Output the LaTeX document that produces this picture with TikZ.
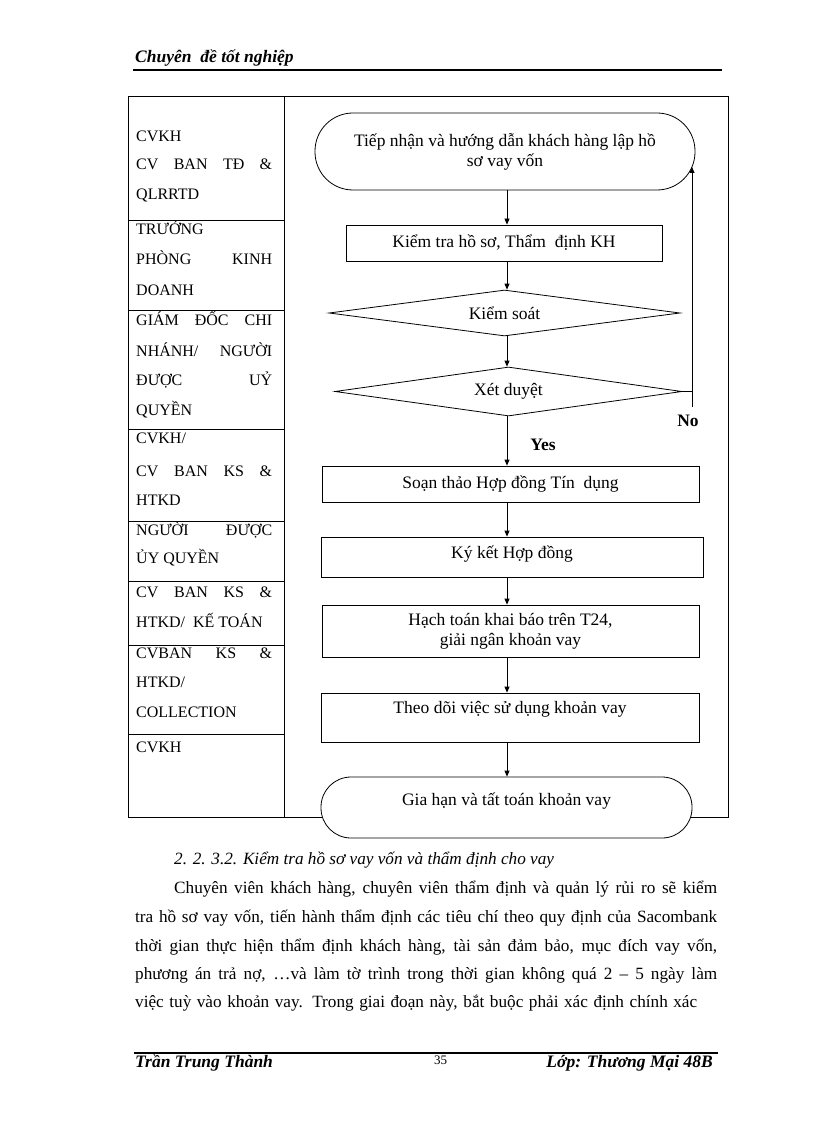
\documentclass[tikz,border=0pt]{standalone}
\usepackage{fontspec}
\setmainfont{Liberation Serif}
\usetikzlibrary{shapes.geometric,arrows.meta}

\newcommand{\flowfont}{\fontsize{17.5}{20}\selectfont}
\newcommand{\lanefont}{\fontsize{16}{19}\selectfont}
\newcommand{\bodyfont}{\fontsize{17.2}{21}\selectfont}
\newcommand{\pagefont}{\fontsize{17.5}{20}\selectfont\bfseries\itshape}
\newcommand{\just}[2]{\makebox[#1pt][s]{#2}}

\begin{document}
\begin{tikzpicture}[x=1pt, y=-1pt,
    box/.style={draw, line width=.8pt, inner sep=2pt, font=\flowfont, align=center},
    term/.style={box, fill=white, rounded corners=#1},
    decision/.style={box, diamond, aspect=7, inner sep=0pt},
    arr/.style={line width=.8pt, -{Triangle[length=6pt,width=5pt]}},
    lane/.style={anchor=base west, inner sep=0pt, font=\lanefont},
    body/.style={anchor=base west, inner sep=0pt, font=\bodyfont},
    ]
    \useasboundingbox (0,0) rectangle (816,1123);

    % page header and footer
    \node[anchor=base west, inner sep=0pt, font=\pagefont] (title) at (135,63) {Chuyên~ đề tốt nghiệp};
    \draw[line width=2pt] (133,70) -- (722,70);
    \draw[line width=1.5pt] (134,1053) -- (718,1053);
    \node[anchor=base west, inner sep=0pt, font=\pagefont] (author) at (135,1067) {Trần Trung Thành};
    \node[anchor=base west, inner sep=0pt, font=\fontsize{13}{15}\selectfont] (pageno) at (434,1064) {35};
    \node[anchor=base east, inner sep=0pt, font=\pagefont] (class) at (713,1067) {Lớp: Thương Mại 48B};

    % table frame
    \draw[line width=.8pt] (128,96) rectangle (728,817);
    \draw[line width=.8pt] (284,96) -- (284,817);
    \foreach \y in {220,310,429,521,581,645,734}
        \draw[line width=.8pt] (128,\y) -- (284,\y);

    % who does each step
    \node[lane] (l1) at (136,142) {CVKH};
    \node[lane] (l2) at (136,170) {\just{136}{CV BAN TĐ \&}};
    \node[lane] (l3) at (136,200) {QLRRTD};
    \node[lane] (l4) at (136,234) {TRƯỞNG};
    \node[lane] (l5) at (136,264) {\just{136}{PHÒNG KINH}};
    \node[lane] (l6) at (136,295) {DOANH};
    \node[lane] (l7) at (136,325) {\just{136}{GIÁM ĐỐC CHI}};
    \node[lane] (l8) at (136,356) {\just{136}{NHÁNH/ NGƯỜI}};
    \node[lane] (l9) at (136,385) {\just{136}{ĐƯỢC UỶ}};
    \node[lane] (l10) at (136,415) {QUYỀN};
    \node[lane] (l11) at (136,443) {CVKH/};
    \node[lane] (l12) at (136,476) {\just{136}{CV BAN KS \&}};
    \node[lane] (l13) at (136,505) {HTKD};
    \node[lane] (l14) at (136,535) {\just{136}{NGƯỜI ĐƯỢC}};
    \node[lane] (l15) at (136,563) {ỦY QUYỀN};
    \node[lane] (l16) at (136,597) {\just{136}{CV BAN KS \&}};
    \node[lane] (l17) at (136,627) {HTKD/~ KẾ TOÁN};
    \node[lane] (l18) at (136,658) {\just{136}{CVBAN KS \&}};
    \node[lane] (l19) at (136,687) {HTKD/};
    \node[lane] (l20) at (136,717) {COLLECTION};
    \node[lane] (l21) at (136,752) {CVKH};

    % flow
    \node[term=38pt, minimum width=380pt, minimum height=77pt] (start) at (505,151.5) {Tiếp nhận và hướng dẫn khách hàng lập hồ\\sơ vay vốn};
    \node[box, minimum width=316pt, minimum height=36pt] (check) at (504,243) {Kiểm tra hồ sơ, Thẩm~ định KH};
    \node[decision, minimum width=351pt, minimum height=46pt] (control) at (504.5,313) {Kiểm soát};
    \node[decision, minimum width=347pt, minimum height=49pt] (approve) at (508.5,391.5) {Xét duyệt};
    \node[box, minimum width=377pt, minimum height=36pt] (draft) at (510.5,484) {Soạn thảo Hợp đồng Tín~ dụng};
    \node[box, minimum width=382pt, minimum height=40pt, text height=12pt, text depth=10pt] (sign) at (512,557) {Ký kết Hợp đồng};
    \node[box, minimum width=377pt, minimum height=52pt] (book) at (510.5,631) {Hạch toán khai báo trên T24,\\giải ngân khoản vay};
    \node[box, minimum width=378pt, minimum height=49pt, text height=12pt, text depth=21pt] (monitor) at (510,717.5) {Theo dõi việc sử dụng khoản vay};
    \node[term=30pt, minimum width=371pt, minimum height=61pt, text height=12pt, text depth=17pt] (settle) at (506.5,807.5) {Gia hạn và tất toán khoản vay};

    \coordinate (spine) at (507,0);
    \foreach \a/\b in {start/check, check/control, control/approve, approve/draft,
                       draft/sign, sign/book, book/monitor, monitor/settle}
        \draw[arr] (\a.south -| spine) -- (\b.north -| spine);

    % back to the start when refused
    \coordinate (loopend) at (692,407);
    \coordinate (looptop) at (692,167);
    \draw[line width=.8pt] (approve.east) -- (approve.east -| loopend);
    \draw[arr] (loopend) -- (looptop);
    \node[font=\flowfont\bfseries] (no) at (688,421) {No};
    \node[font=\flowfont\bfseries] (yes) at (543,445) {Yes};

    % text under the table
    \node[body, font=\bodyfont\itshape] (sec) at (174,864) {2. 2. 3.2. Kiểm tra hồ sơ vay vốn và thẩm định cho vay};
    \node[body] (p1) at (174,893) {\just{543}{Chuyên viên khách hàng, chuyên viên thẩm định và quản lý rủi ro sẽ kiểm}};
    \node[body] (p2) at (135,922) {\just{582}{tra hồ sơ vay vốn, tiến hành thẩm định các tiêu chí theo quy định của Sacombank}};
    \node[body] (p3) at (135,951) {\just{582}{thời gian thực hiện thẩm định khách hàng, tài sản đảm bảo, mục đích vay vốn,}};
    \node[body] (p4) at (135,979) {\just{582}{phương án trả nợ, …và làm tờ trình trong thời gian không quá 2 – 5 ngày làm}};
    \node[body] (p5) at (135,1007) {\just{562}{việc tuỳ vào khoản vay. Trong giai đoạn này, bắt buộc phải xác định chính xác}};
\end{tikzpicture}
\end{document}
